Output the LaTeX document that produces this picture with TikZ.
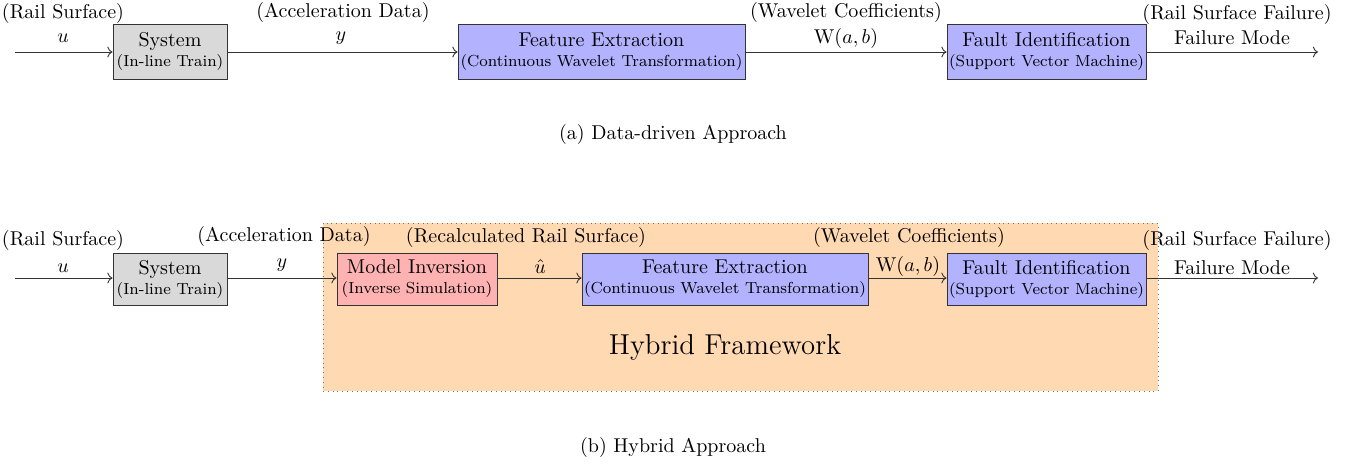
\documentclass[tikz,border=0pt]{standalone}
\usetikzlibrary{arrows.meta}
\begin{document}
\begin{tikzpicture}[x=0.5pt,y=0.5pt,
  blk/.style={draw=black!80,line width=0.5pt,align=center,inner sep=1pt,font=\normalsize},
  sysbox/.style={blk,fill=black!15},
  bluebox/.style={blk,fill=blue!30},
  redbox/.style={blk,fill=red!30},
  lbl/.style={inner sep=0pt,font=\normalsize},
  conn/.style={->,draw=black!80,line width=0.45pt},
  captext/.style={inner sep=0pt,font=\normalsize}
]
\useasboundingbox (0,0) rectangle (1346,-467);

% ---------- (a) ----------
\coordinate (in1) at (15,-52);
\coordinate (out1) at (1318,-52);
\node[sysbox,minimum width=57pt,minimum height=27.5pt] (sys1) at (170,-51.5) {System\\[-2pt]{\footnotesize (In-line Train)}};
\node[bluebox,minimum width=143.5pt,minimum height=27.5pt] (fe1) at (601.5,-51.5) {Feature Extraction\\[-2pt]{\footnotesize (Continuous Wavelet Transformation)}};
\node[bluebox,minimum width=99.5pt,minimum height=27.5pt] (fi1) at (1046.5,-51.5) {Fault Identification\\[-2pt]{\footnotesize (Support Vector Machine)}};

\draw[conn] (in1) -- (in1 -| sys1.west);
\draw[conn] (sys1.east |- in1) -- (in1 -| fe1.west);
\draw[conn] (fe1.east |- in1) -- (in1 -| fi1.west);
\draw[conn] (fi1.east |- in1) -- (out1);

\node[lbl] (a1) at (63,-13) {(Rail Surface)};
\node[lbl] (a2) at (63,-38) {$u$};
\node[lbl] (a3) at (343,-12) {(Acceleration Data)};
\node[lbl] (a4) at (341,-38) {$y$};
\node[lbl] (a5) at (846,-12) {(Wavelet Coefficients)};
\node[lbl] (a6) at (846,-38) {$\mathrm{W}(a,b)$};
\node[lbl] (a7) at (1237,-14) {(Rail Surface Failure)};
\node[lbl] (a8) at (1232,-38) {Failure Mode};

\node[captext] (capa) at (673,-134) {(a) Data-driven Approach};

% ---------- (b) ----------
\node[draw=black!55,dotted,fill=orange!30,minimum width=417.5pt,minimum height=84pt,inner sep=0pt] (frame) at (740.5,-307) {};
\node[lbl,font=\Large] (hf) at (725,-347) {Hybrid Framework};

\coordinate (in2) at (15,-278);
\coordinate (out2) at (1318,-278);
\node[sysbox,minimum width=57pt,minimum height=26pt] (sys2) at (170,-279) {System\\[-2pt]{\footnotesize (In-line Train)}};
\node[redbox,minimum width=80pt,minimum height=26pt] (mi) at (417,-279) {Model Inversion\\[-2pt]{\footnotesize (Inverse Simulation)}};
\node[bluebox,minimum width=143pt,minimum height=26pt] (fe2) at (725,-279) {Feature Extraction\\[-2pt]{\footnotesize (Continuous Wavelet Transformation)}};
\node[bluebox,minimum width=99.5pt,minimum height=26pt] (fi2) at (1046.5,-279) {Fault Identification\\[-2pt]{\footnotesize (Support Vector Machine)}};

\draw[conn] (in2) -- (in2 -| sys2.west);
\draw[conn] (sys2.east |- in2) -- (in2 -| mi.west);
\draw[conn] (mi.east |- in2) -- (in2 -| fe2.west);
\draw[conn] (fe2.east |- in2) -- (in2 -| fi2.west);
\draw[conn] (fi2.east |- in2) -- (out2);

\node[lbl] (b1) at (63,-240) {(Rail Surface)};
\node[lbl] (b2) at (63,-268) {$u$};
\node[lbl] (b3) at (284,-236) {(Acceleration Data)};
\node[lbl] (b4) at (282,-265) {$y$};
\node[lbl] (b5) at (526,-237) {(Recalculated Rail Surface)};
\node[lbl] (b6) at (540,-267) {$\hat{u}$};
\node[lbl] (b7) at (909,-237) {(Wavelet Coefficients)};
\node[lbl] (b8) at (908,-266) {$\mathrm{W}(a,b)$};
\node[lbl] (b9) at (1237,-240) {(Rail Surface Failure)};
\node[lbl] (b10) at (1232,-268) {Failure Mode};

\node[captext] (capb) at (673,-447) {(b) Hybrid Approach};
\end{tikzpicture}
\end{document}
